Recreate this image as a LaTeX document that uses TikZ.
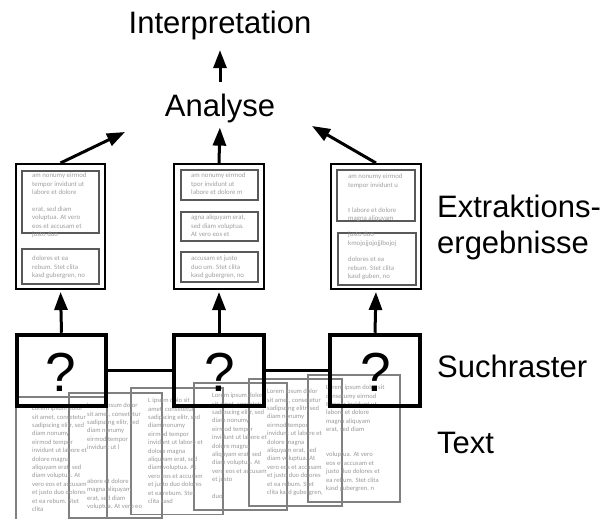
\documentclass[tikz,border=0pt]{standalone}
\usepackage{fontspec}
\setmainfont{Liberation Sans}
\newfontfamily\smallfont{Carlito}
\usetikzlibrary{arrows.meta}

\begin{document}
\begin{tikzpicture}[x=1pt,y=-1pt,
  lbl/.style={font=\fontsize{31}{31}\selectfont, inner sep=0pt},
  qmark/.style={font=\fontsize{55}{55}\selectfont, inner sep=0pt},
  arr/.style={line width=3pt, -{Triangle[length=18pt,width=13pt]}},
  extbox/.style={draw=black, line width=2pt, inner sep=0pt},
  innerbox/.style={draw=black!65, line width=1.6pt, inner sep=0pt, minimum width=77pt},
  xtext/.style={font=\smallfont\fontsize{6.8}{8.4}\selectfont, text=black!38, align=left, inner sep=0pt, anchor=north west},
  docframe/.style={draw=black!50, line width=1.2pt},
  dtext/.style={font=\smallfont\fontsize{6.6}{8.4}\selectfont, text=black!40, align=left, inner sep=0pt, anchor=north west},
  raster/.style={draw=black, line width=4.5pt, inner sep=0pt, minimum height=71pt},
  link/.style={line width=3pt}]

\useasboundingbox (0,0) rectangle (608,519);

% ---- source documents (overlapping text frames)
\draw[docframe] (16,397) rectangle (107,523);
\draw[docframe] (69,393) rectangle (162,518);
\draw[docframe] (131,388) rectangle (223,514.5);
\draw[docframe] (194,383) rectangle (287,510);
\draw[docframe] (249,379) rectangle (342,506);
\draw[docframe] (308,375) rectangle (400,502);

\node[dtext] (t1) at (32,405.9) {Lorem ipsum dolor\\sit amet, consetetur\\sadipscing elitr, sed\\diam nonumy\\eirmod tempor\\invidunt ut labore et\\dolore magna\\aliquyam erat, sed\\diam voluptua. At\\vero eos et accusam\\et justo duo dolores\\et ea rebum. Stet\\clita};
\node[dtext] (t2) at (87,402.9) {Lorem ipsum dolor\\sit amet, consetetur\\sadipscing elitr, sed\\diam nonumy\\eirmod tempor\\invidunt ut l\\~\\~\\~\\abore et dolore\\magna aliquyam\\erat, sed diam\\voluptua. At vero eo};
\node[dtext] (t3) at (148,397.9) {L ipsum dolo sit\\amet, consetetur\\sadipscing elitr, sed\\diam nonumy\\eirmod tempor\\invidunt ut labore et\\dolore magna\\aliquyam erat, sed\\diam voluptua. At\\vero eos et accusam\\et justo duo dolores\\et ea rebum. Stet\\clita kasd};
\node[dtext] (t4) at (212,392.9) {Lorem ipsum dolor\\sit amet, consetetur\\sadipscing elitr, sed\\diam nonumy\\eirmod tempor\\invidunt ut labore et\\dolore magna\\aliquyam erat, sed\\diam voluptua. At\\vero eos et accusam\\et justo\\~\\duo};
\node[dtext] (t5) at (267,388.9) {Lorem ipsum dolor\\sit amet, consetetur\\sadipscing elitr, sed\\diam nonumy\\eirmod tempor\\invidunt ut labore et\\dolore magna\\aliquyam erat, sed\\diam voluptua. At\\vero eos et accusam\\et justo duo dolores\\et ea rebum. Stet\\clita kasd gubergren,};
\node[dtext] (t6) at (326,384.9) {Lorem ipsum dolor sit\\consetumy eirmod\\tempor invidunt ut\\labore et dolore\\magna aliquyam\\erat, sed diam\\~\\~\\voluptua. At vero\\eos et accusam et\\justo duo dolores et\\ea rebum. Stet clita\\kasd gubergren, n};

% ---- search grid
\node[raster, minimum width=89pt] (s1) at (61.5,370.5) {};
\node[raster, minimum width=90pt] (s2) at (219,370.5) {};
\node[raster, minimum width=90pt] (s3) at (375,370.5) {};
\draw[link] (s1.east) -- (s2.west);
\draw[link] (s2.east) -- (s3.west);
\node[qmark] (q1) at (61,372) {?};
\node[qmark] (q2) at (220,372) {?};
\node[qmark] (q3) at (376,372) {?};

% ---- extraction results
\node[extbox, minimum width=89pt, minimum height=125pt] (e1) at (60.5,226.5) {};
\node[extbox, minimum width=90pt, minimum height=125pt] (e2) at (219,226.5) {};
\node[extbox, minimum width=90pt, minimum height=125pt] (e3) at (376,226.5) {};

\node[innerbox, minimum height=62pt] (i11) at (60.5,202) {};
\node[innerbox, minimum height=35pt] (i12) at (60.5,266.5) {};
\node[innerbox, minimum height=30pt] (i21) at (219.5,185) {};
\node[innerbox, minimum height=29pt] (i22) at (219.5,226.5) {};
\node[innerbox, minimum height=30pt] (i23) at (219.5,267) {};
\node[innerbox, minimum width=78pt, minimum height=51pt] (i31) at (376,195.5) {};
\node[innerbox, minimum width=78pt, minimum height=52pt] (i32) at (377,259) {};

\node[xtext] (x11) at (32,172.8) {am nonumy eirmod\\tempor invidunt ut\\labore et dolore\\~\\erat, sed diam\\voluptua. At vero\\eos et accusam et\\justo duo};
\node[xtext] (x12) at (32,255.8) {dolores et ea\\rebum. Stet clita\\kasd gubergren, no};
\node[xtext] (x21) at (191,172.8) {am nonumy eirmod\\tpor invidunt ut\\labore et dolore m};
\node[xtext] (x22) at (191,214.8) {agna aliquyam erat,\\sed diam voluptua.\\At vero eos et};
\node[xtext] (x23) at (191,255.8) {accusam et justo\\duo um. Stet clita\\kasd gubergren, no};
\node[xtext] (x31) at (348,173.8) {am nonumy eirmod\\tempor invidunt u\\~\\~\\t labore et dolore\\magna aliquyam};
\node[xtext] (x32) at (348,231.8) {justo duo\\kmojojjojojjlbojoj\\~\\dolores et ea\\rebum. Stet clita\\kasd guben, no};

% ---- labels
\node[lbl, anchor=base] (interp) at (220,33.5) {Interpretation};
\node[lbl, anchor=base] (ana) at (220,116) {Analyse};
\node[lbl, anchor=base west] (ext1) at (437,217) {Extraktions-};
\node[lbl, anchor=base west] (ext2) at (437,253) {ergebnisse};
\node[lbl, anchor=base west] (such) at (437,377) {Suchraster};
\node[lbl, anchor=base west] (txt) at (437,453) {Text};

% ---- arrows
\coordinate (aL) at (125,132);
\coordinate (aR) at (312,126);
\draw[arr, shorten <=11pt, shorten >=10pt] (ana.north) -- (interp.south);
\draw[arr] (e1.north) -- (aL);
\draw[arr, shorten >=5pt] (e2.north) -- (ana.south);
\draw[arr] (e3.north) -- (aR);
\draw[arr, shorten >=2pt] (s1.north) -- (e1.south);
\draw[arr, shorten >=2pt] (s2.north) -- (e2.south);
\draw[arr, shorten >=2pt] (s3.north) -- (e3.south);
\end{tikzpicture}
\end{document}
